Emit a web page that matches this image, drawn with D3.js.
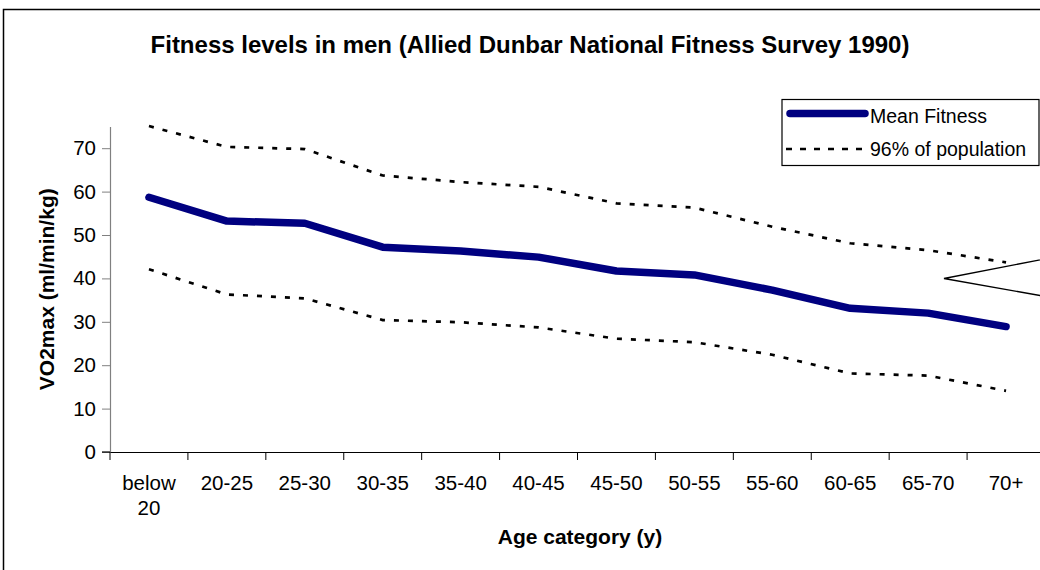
<!DOCTYPE html>
<html>
<head>
<meta charset="utf-8">
<script src="https://cdn.jsdelivr.net/npm/d3@7"></script>
<style>
  html, body { margin: 0; padding: 0; background: #fff; }
  svg { display: block; }
  text { font-family: "Liberation Sans", Arial, sans-serif; fill: #000; }
</style>
</head>
<body>
<svg id="chart" width="1040" height="570"></svg>
<script>
const categories = ["below 20", "20-25", "25-30", "30-35", "35-40", "40-45", "45-50", "50-55", "55-60", "60-65", "65-70", "70+"];
const meanFitness = [58.7, 53.2, 52.7, 47.2, 46.3, 44.9, 41.7, 40.8, 37.3, 33.1, 32.0, 28.9];
const upper96 = [75.1, 70.3, 69.8, 63.7, 62.2, 61.1, 57.3, 56.3, 51.9, 48.1, 46.5, 43.7];
const lower96 = [42.1, 36.3, 35.4, 30.4, 29.9, 28.7, 26.1, 25.3, 22.4, 18.1, 17.6, 14.1];
const yTicks = [0, 10, 20, 30, 40, 50, 60, 70];
const seriesNames = ["Mean Fitness", "96% of population"];

const svg = d3.select("#chart");

// outer chart frame
svg.append("rect")
  .attr("x", 3.5).attr("y", 9.5).attr("width", 1100).attr("height", 600)
  .attr("fill", "#fff").attr("stroke", "#000").attr("stroke-width", 1.5);

const pLeft = 110, pRight = 1045, pTop = 126.5, pBottom = 452;

const x = d3.scaleBand().domain(categories).range([pLeft, pRight]).padding(0);
const y = d3.scaleLinear().domain([0, 75]).range([pBottom, pTop]);
const cx = d => x(d) + x.bandwidth() / 2;

// y axis
const yAxis = d3.axisLeft(y).tickValues(yTicks).tickSize(8).tickPadding(6).tickSizeOuter(0);
const gy = svg.append("g").attr("transform", `translate(${pLeft},0)`).call(yAxis);
gy.select(".domain").attr("stroke", "#808080").attr("stroke-width", 1.2);
gy.selectAll(".tick line").attr("stroke", "#808080");
gy.selectAll(".tick text").attr("font-size", 20.5).attr("font-family", "Liberation Sans, Arial, sans-serif").attr("fill", "#000");

// x axis
const xAxis = d3.axisBottom(x).tickSize(0).tickFormat("");
const gx = svg.append("g").attr("transform", `translate(0,${pBottom})`).call(xAxis);
gx.select(".domain").attr("stroke", "#000").attr("stroke-width", 1.2);
gx.selectAll(".tick").remove();
const boundaries = categories.map(c => x(c)).concat([x(categories[categories.length - 1]) + x.bandwidth()]);
svg.append("g").selectAll("line").data(boundaries).join("line")
  .attr("x1", d => d).attr("x2", d => d)
  .attr("y1", pBottom).attr("y2", pBottom + 8)
  .attr("stroke", "#000").attr("stroke-width", 1);
svg.append("line").attr("x1", pLeft - 8).attr("x2", pLeft).attr("y1", pBottom).attr("y2", pBottom)
  .attr("stroke", "#000").attr("stroke-width", 1.2);

// category labels (wrapped)
const labG = svg.append("g");
categories.forEach(c => {
  const parts = c === "below 20" ? ["below", "20"] : [c];
  const t = labG.append("text")
    .attr("x", cx(c)).attr("y", pBottom + 38)
    .attr("text-anchor", "middle").attr("font-size", 20.5);
  parts.forEach((p, i) => {
    t.append("tspan").attr("x", cx(c)).attr("dy", i === 0 ? 0 : 25).text(p);
  });
});

// lines
const line = d3.line().x((d, i) => cx(categories[i])).y(d => y(d));

[upper96, lower96].forEach(arr => {
  svg.append("path").datum(arr).attr("d", line)
    .attr("fill", "none").attr("stroke", "#000").attr("stroke-width", 2.7)
    .attr("stroke-dasharray", "5,9");
});
svg.append("path").datum(meanFitness).attr("d", line)
  .attr("fill", "none").attr("stroke", "#000080").attr("stroke-width", 7.5)
  .attr("stroke-linecap", "round").attr("stroke-linejoin", "round");

// titles
svg.append("text").attr("x", 530).attr("y", 53).attr("text-anchor", "middle")
  .attr("font-size", 24).attr("font-weight", "bold")
  .text("Fitness levels in men (Allied Dunbar National Fitness Survey 1990)");
svg.append("text").attr("x", 580).attr("y", 544).attr("text-anchor", "middle")
  .attr("font-size", 21).attr("font-weight", "bold").text("Age category (y)");
svg.append("text").attr("transform", `translate(54,${(pTop + pBottom) / 2}) rotate(-90)`)
  .attr("text-anchor", "middle").attr("font-size", 21).attr("font-weight", "bold")
  .text("VO2max (ml/min/kg)");

// callout shape at right
svg.append("path")
  .attr("d", "M1060,256 L944,278.5 L1060,299")
  .attr("fill", "#fff").attr("stroke", "#000").attr("stroke-width", 1.3);

// legend
const lg = svg.append("g");
lg.append("rect").attr("x", 782).attr("y", 99.5).attr("width", 257).attr("height", 66)
  .attr("fill", "#fff").attr("stroke", "#000").attr("stroke-width", 1.2);
lg.append("line").attr("x1", 790).attr("x2", 865).attr("y1", 113.5).attr("y2", 113.5)
  .attr("stroke", "#000080").attr("stroke-width", 7.5).attr("stroke-linecap", "round");
lg.append("text").attr("x", 870).attr("y", 122.5).attr("font-size", 19.5).text(seriesNames[0]);
lg.append("line").attr("x1", 786).attr("x2", 866).attr("y1", 149).attr("y2", 149)
  .attr("stroke", "#000").attr("stroke-width", 2.7).attr("stroke-dasharray", "6,8");
lg.append("text").attr("x", 870).attr("y", 155.5).attr("font-size", 19.5).text(seriesNames[1]);
</script>
</body>
</html>
